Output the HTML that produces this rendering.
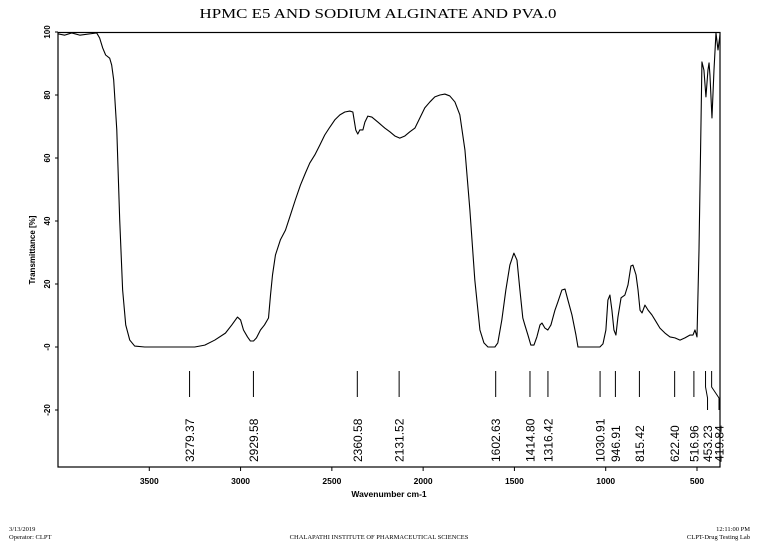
<!DOCTYPE html>
<html><head><meta charset="utf-8"><style>
html,body{margin:0;padding:0;background:#fff;}
svg{display:block;}
text{fill:#000;}
</style></head><body>
<svg id="chart" width="758" height="549" viewBox="0 0 758 549" xmlns="http://www.w3.org/2000/svg">
<text x="378" y="18" text-anchor="middle" font-family="Liberation Serif, serif" font-size="14" textLength="357" lengthAdjust="spacingAndGlyphs">HPMC E5 AND SODIUM ALGINATE AND PVA.0</text>
<rect x="58" y="32.5" width="662" height="434.5" fill="none" stroke="#000" stroke-width="1.2"/>
<g id="xticks"></g>
<g id="yticks"></g>
<text x="389" y="497" text-anchor="middle" font-family="Liberation Sans, sans-serif" font-size="8.5" font-weight="bold">Wavenumber cm-1</text>
<text transform="translate(35,250) rotate(-90)" text-anchor="middle" font-family="Liberation Sans, sans-serif" font-size="8" font-weight="bold">Transmittance [%]</text>
<path id="spectrum" fill="none" stroke="#000" stroke-width="1.1" stroke-linejoin="round"/>
<g id="peaks"></g>
<text x="9" y="531" font-family="Liberation Serif, serif" font-size="6.5">3/13/2019</text>
<text x="9" y="539" font-family="Liberation Serif, serif" font-size="6.5">Operator: CLPT</text>
<text x="379" y="539" text-anchor="middle" font-family="Liberation Serif, serif" font-size="6.5">CHALAPATHI INSTITUTE OF PHARMACEUTICAL SCIENCES</text>
<text x="750" y="531" text-anchor="end" font-family="Liberation Serif, serif" font-size="6.5">12:11:00 PM</text>
<text x="750" y="539" text-anchor="end" font-family="Liberation Serif, serif" font-size="6.5">CLPT-Drug Testing Lab</text>
</svg>
<script>
const wavenumbers=[4000,3963,3925,3881,3826,3788,3772,3755,3739,3717,3706,3695,3678,3662,3646,3629,3607,3580,3525,3251,3196,3141,3083,3048,3017,3000,2984,2962,2946,2929,2913,2891,2869,2847,2836,2825,2809,2782,2754,2727,2700,2672,2645,2621,2593,2566,2539,2511,2484,2456,2429,2402,2385,2369,2358,2347,2330,2319,2303,2281,2248,2210,2182,2155,2128,2100,2073,2045,2018,1991,1963,1936,1908,1881,1854,1826,1799,1771,1744,1717,1689,1667,1645,1607,1591,1569,1547,1525,1503,1486,1470,1454,1443,1426,1410,1393,1377,1360,1349,1333,1317,1300,1278,1262,1240,1223,1207,1185,1163,1152,1032,1015,999,988,977,966,955,944,933,916,895,878,862,851,834,823,812,801,785,768,747,730,703,675,648,621,593,566,538,522,511,500,489,478,473,462,451,440,434,429,418,407,396,385,374];
const transmittance=[99.4,99.0,99.7,99.0,99.4,99.7,98.1,94.9,92.7,91.7,89.5,84.8,68.9,40.3,18.1,7.0,2.2,0.3,0,0,0.6,2.2,4.4,7.0,9.5,8.6,5.4,3.2,1.9,1.9,2.9,5.4,7.0,9.2,16.5,22.9,29.2,34.0,37.1,41.9,46.7,51.4,55.2,58.4,61.0,64.1,67.3,69.8,72.1,73.7,74.6,74.9,74.6,68.9,67.6,68.9,68.9,71.4,73.3,73.0,71.4,69.5,68.3,67.0,66.3,67.0,68.3,69.5,72.7,75.9,77.8,79.4,80.0,80.3,79.7,77.8,73.7,62.5,43.5,21.3,5.4,1.3,0,0,1.3,8.6,18.1,26.0,29.8,27.6,18.1,9.2,7.0,3.8,0.6,0.6,3.2,7.0,7.6,6.0,5.4,7.0,11.7,14.3,18.1,18.4,14.9,10.2,3.8,0,0,1.0,5.4,14.9,16.5,11.7,5.4,3.8,9.5,15.6,16.5,19.7,25.7,26.0,22.9,18.1,11.7,10.8,13.3,11.7,10.2,8.6,6.0,4.4,3.2,2.9,2.2,2.9,3.8,3.8,5.4,3.2,30.8,71.4,90.5,87.9,79.4,87.9,90.2,86.3,72.7,87.9,99.7,94.3,99.1];
const peakValues=["3279.37","2929.58","2360.58","2131.52","1602.63","1414.80","1316.42","1030.91","946.91","815.42","622.40","516.96","453.23","419.84"];
const xTickValues=[3500,3000,2500,2000,1500,1000,500];
const yTickValues=[100,80,60,40,20,0,-20];
const yTickLabels=["100","80","60","40","20","-0","-20"];

const NS="http://www.w3.org/2000/svg";
const X0=58,X1=720,W0=4000,W1=374;
function xs(w){return X0+(W0-w)/(W0-W1)*(X1-X0);}
function ys(t){return 347-t*3.15;}

let d="";
for(let i=0;i<wavenumbers.length;i++){d+=(i?"L":"M")+xs(wavenumbers[i]).toFixed(2)+" "+ys(transmittance[i]).toFixed(2);}
document.getElementById("spectrum").setAttribute("d",d);

const xg=document.getElementById("xticks");
xTickValues.forEach(v=>{
  const x=xs(v);
  const l=document.createElementNS(NS,"line");
  
  
  l.setAttribute("x1",x);l.setAttribute("x2",x);l.setAttribute("y1",467);l.setAttribute("y2",471);l.setAttribute("stroke","#000");
  xg.appendChild(l);
  const t=document.createElementNS(NS,"text");
  
  
  t.setAttribute("x",x);t.setAttribute("y",484);t.setAttribute("text-anchor","middle");
  t.setAttribute("font-family","Liberation Sans, sans-serif");t.setAttribute("font-size","8.5");t.setAttribute("font-weight","bold");
  t.textContent=v;xg.appendChild(t);
});
const yg=document.getElementById("yticks");
yTickValues.forEach((v,i)=>{
  const y=ys(v);
  const l=document.createElementNS(NS,"line");
  
  
  l.setAttribute("x1",55);l.setAttribute("x2",58);l.setAttribute("y1",y);l.setAttribute("y2",y);l.setAttribute("stroke","#000");
  yg.appendChild(l);
  const t=document.createElementNS(NS,"text");
  
  
  t.setAttribute("transform","translate(50,"+y+") rotate(-90)");t.setAttribute("text-anchor","middle");
  t.setAttribute("font-family","Liberation Sans, sans-serif");t.setAttribute("font-size","8");t.setAttribute("font-weight","bold");
  t.textContent=yTickLabels[i];yg.appendChild(t);
});
const pg=document.getElementById("peaks");
const n=peakValues.length;
peakValues.forEach((p,i)=>{
  const x=xs(parseFloat(p));
  let lx=x;
  if(i===n-2)lx=x+2;
  if(i===n-1)lx=X1-1;
  const path=document.createElementNS(NS,"path");
  
  
  let pd;
  if(i>=n-2){pd="M"+x+" 371L"+x+" 387L"+lx+" 398L"+lx+" 410";}
  else{pd="M"+x+" 371L"+x+" 397";}
  path.setAttribute("d",pd);path.setAttribute("stroke","#000");path.setAttribute("fill","none");
  pg.appendChild(path);
  const t=document.createElementNS(NS,"text");
  
  
  t.setAttribute("transform","translate("+(lx+4.5)+",462) rotate(-90)");
  t.setAttribute("font-family","Liberation Sans, sans-serif");t.setAttribute("font-size","12");
  t.textContent=p;pg.appendChild(t);
});
</script>
</body></html>
